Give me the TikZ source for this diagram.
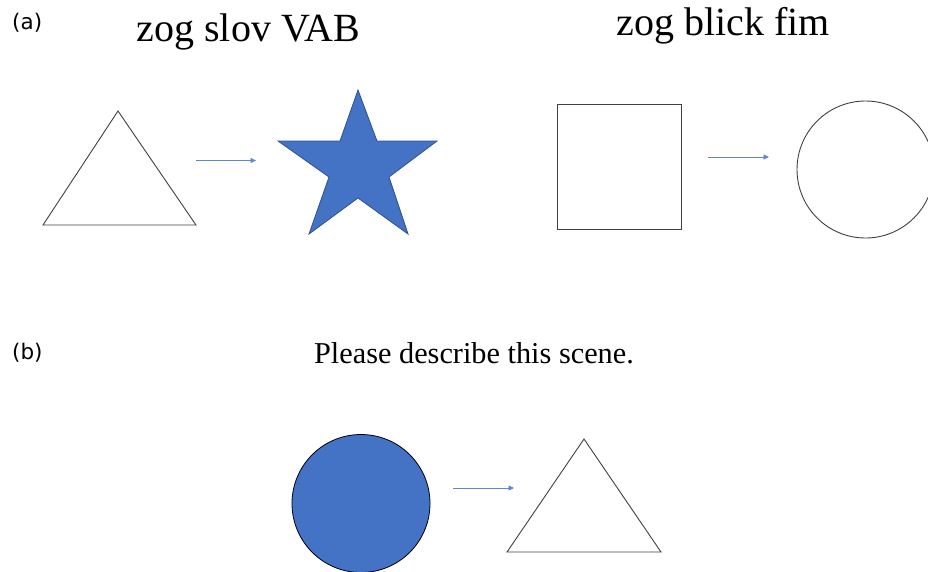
\documentclass[tikz,border=0pt]{standalone}
\usepackage{fontspec}
\setmainfont{Liberation Serif}
\newfontfamily\tagfont{DejaVu Sans}
\usetikzlibrary{arrows.meta, positioning}
\definecolor{officeblue}{HTML}{4472C4}
\definecolor{stardraw}{HTML}{2F528F}
\definecolor{shapeline}{HTML}{404040}

\begin{document}
\begin{tikzpicture}[
      x=1pt, y=-1pt,
      outline/.style={draw=shapeline, line width=0.9pt, line join=miter},
      bluefill/.style={fill=officeblue, line width=0.8pt},
      link/.style={draw=officeblue!85, line width=0.8pt, -{Triangle[length=5.5pt,width=5pt]}},
      title/.style={font=\fontsize{40}{48}\selectfont, inner sep=0pt, anchor=base},
      prompt/.style={font=\fontsize{30.3}{36}\selectfont, inner sep=0pt, anchor=base},
      tag/.style={font=\tagfont\fontsize{21.5}{26}\selectfont, inner sep=0pt, anchor=base west}
  ]
  \useasboundingbox (0,0) rectangle (928,571);
  \clip (0,0) rectangle (928,571);

  % panel (a)
  \node [tag] (tagA) at (12,29) {(a)};
  \node [title] (titleA) at (248.5,41.5) {zog slov VAB};
  \node [title] (titleB) at (723,35) {zog blick fim};

  \draw [outline] (118,111) -- (196,225) -- (43,225) -- cycle;
  \draw [bluefill, draw=stardraw] (358,90) -- (377,141) -- (437,141) -- (389,177) -- (408,234)
        -- (358,198) -- (309,234) -- (329,177) -- (278,141) -- (340,141) -- cycle;
  \draw [outline] (557,104) rectangle (681,229);
  \draw [outline] (865.5,169.5) circle [radius=68.5];

  \coordinate (a1) at (196,160.5);
  \coordinate (a2) at (256,160.5);
  \coordinate (b1) at (708,157);
  \coordinate (b2) at (769,157);
  \path [link] (a1) -- (a2);
  \path [link] (b1) -- (b2);

  % panel (b)
  \node [tag] (tagB) at (12,359) {(b)};
  \node [prompt] (ask) at (474,363) {Please describe this scene.};

  \draw [bluefill, draw=black] (361,503.5) circle [radius=69];
  \draw [outline] (584,439) -- (661,552) -- (507,552) -- cycle;

  \coordinate (c1) at (453,488);
  \coordinate (c2) at (514,488);
  \path [link] (c1) -- (c2);

\end{tikzpicture}
\end{document}
